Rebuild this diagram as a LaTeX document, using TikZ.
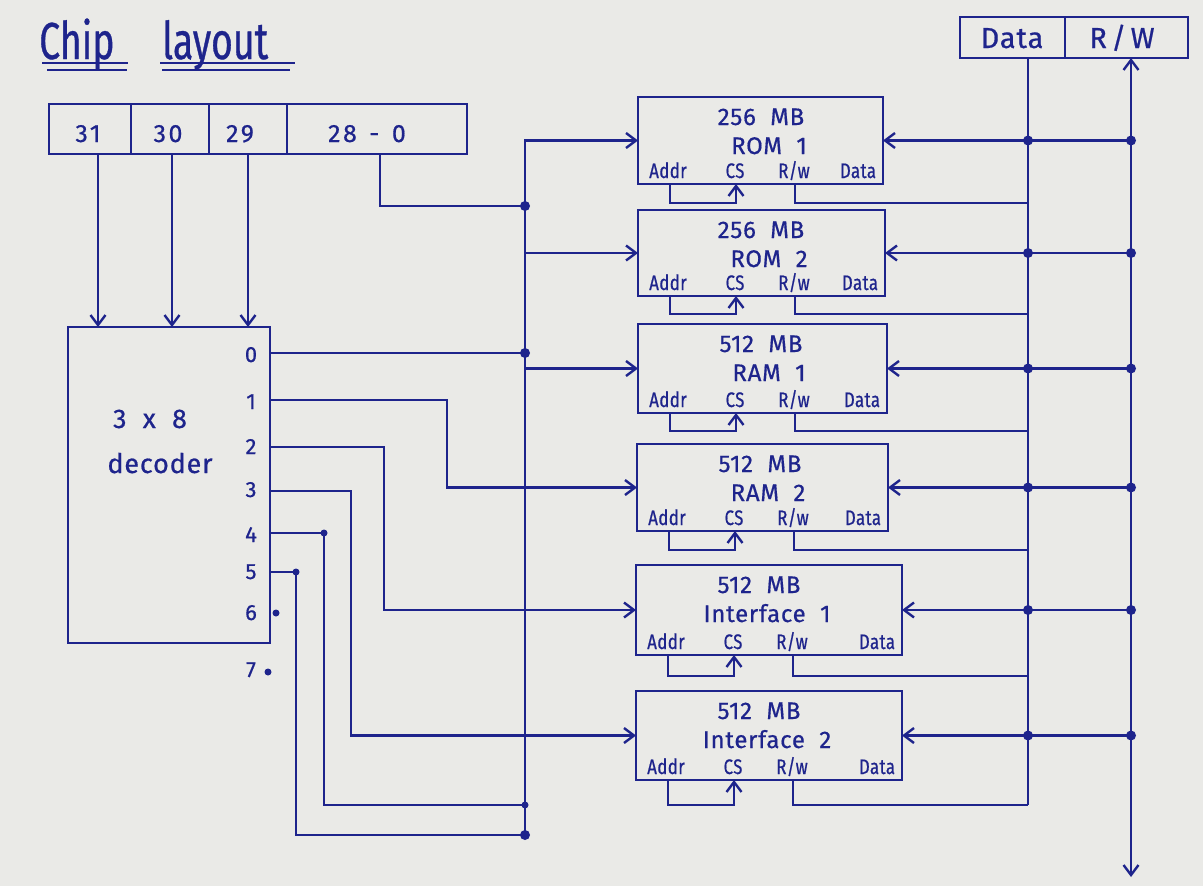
\documentclass[tikz,border=0pt]{standalone}
\usepackage{fontspec}
\setmainfont{Fira Sans}
\newfontfamily\hand[LetterSpace=3,FakeBold=0.6]{Fira Sans}
\newfontfamily\handw[LetterSpace=10,FakeBold=0.6]{Fira Sans}
\newfontfamily\handc[LetterSpace=2,FakeStretch=0.8,FakeBold=0.6]{Fira Sans}
\newfontfamily\handt[FakeStretch=0.72,FakeBold=0.6]{Fira Sans}
\usetikzlibrary{arrows.meta,calc}
\definecolor{ink}{RGB}{30,36,140}
\definecolor{paper}{RGB}{234,234,231}
\newcommand\fs[2]{#1\fontsize{#2}{#2}\selectfont}
\newcommand\gap{\hspace{0.6em}}
\def\dbx{1028}
\def\rwx{1131}
\newcommand\mkchip[8]{%
  \pgfmathsetmacro\chw{#4-#2}%
  \pgfmathsetmacro\chh{#5-#3}%
  \pgfmathsetmacro\chx{(#2+#4)/2}%
  \pgfmathsetmacro\chy{(#3+#5)/2}%
  \node[box, minimum width=\chw pt, minimum height=\chh pt] (#1) at (\chx,\chy) {};
  \node[bigt] (#1-t1) at (#2+123,#3+28) {#6};
  \node[bigt] (#1-t2) at (#2+131,#3+57) {#7};
  \node[pint] (#1-addr) at (#2+30,#5-6) {Addr};
  \node[pint] (#1-cs) at (#2+97,#5-6) {CS};
  \node[pint] (#1-rw) at (#2+156,#5-6) {R/w};
  \node[pint] (#1-data) at (#4-25,#5-6) {Data};
  \coordinate (#1-ap) at (#2+32,#5);
  \coordinate (#1-cp) at (#2+98,#5);
  \coordinate (#1-rp) at (#2+157,#5);
  \coordinate (#1-dj) at (\dbx,#8);
  \draw[->] (#1-ap) -- (#2+32,#8) -| (#1-cp);
  \draw (#1-rp) |- (#1-dj);
  \coordinate (#1-dbj) at (\dbx,\chy);
  \coordinate (#1-rwj) at (\rwx,\chy);
  \draw[->] (#1-rwj) -- (#1.east);
  \node[dot] (#1-dd) at (#1-dbj) {};
  \node[dot] (#1-rd) at (#1-rwj) {};
}
\begin{document}
\begin{tikzpicture}[x=1pt,y=-1pt,color=ink,line width=2.4pt,
  >={Straight Barb[length=10pt,width=15pt]},
  box/.style={draw,rectangle,inner sep=0pt,outer sep=0pt},
  ttl/.style={anchor=base west,inner sep=0pt,font=\fs{\handt}{52}},
  bigt/.style={anchor=base,inner sep=0pt,font=\fs{\hand}{24}},
  pint/.style={anchor=base,inner sep=0pt,font=\fs{\handc}{21}},
  regt/.style={anchor=base,inner sep=0pt,font=\fs{\handw}{25}},
  dect/.style={anchor=base,inner sep=0pt,font=\fs{\hand}{27}},
  outt/.style={anchor=base,inner sep=0pt,font=\fs{\hand}{22}},
  hdrt/.style={anchor=base,inner sep=0pt,font=\fs{\hand}{29}},
  dot/.style={circle,fill,inner sep=0pt,minimum size=10pt},
  sdot/.style={circle,fill,inner sep=0pt,minimum size=7pt}]
\fill[paper] (0,0) rectangle (1203,886);
\useasboundingbox (0,0) rectangle (1203,886);

% title
\node[ttl] (tchip) at (38,59) {Chip};
\node[ttl] (tlay) at (161,59) {layout};
\draw (42,63) -- (128,63);
\draw (47,70) -- (127,70);
\draw (160,63) -- (295,63);
\draw (162,70) -- (290,70);

% address register
\node[box, minimum width=82pt, minimum height=50pt] (r31) at (90,129) {};
\node[box, minimum width=78pt, minimum height=50pt] (r30) at (170,129) {};
\node[box, minimum width=78pt, minimum height=50pt] (r29) at (248,129) {};
\node[box, minimum width=180pt, minimum height=50pt] (r28) at (377,129) {};
\node[regt] (l31) at (88,142) {31};
\node[regt] (l30) at (168,142) {30};
\node[regt] (l29) at (240,142) {29};
\node[regt] (l28) at (367,142) {28\hspace{0.5em}-\hspace{0.5em}0};

% decoder
\node[box, minimum width=202pt, minimum height=316pt] (dec) at (169,485) {};
\node[dect] (d1) at (150,428) {3\gap x\gap 8};
\node[dect] (d2) at (160,473) {decoder};
\node[outt] (n0) at (251,362) {0};
\node[outt] (n1) at (251,409) {1};
\node[outt] (n2) at (251,454) {2};
\node[outt] (n3) at (251,497) {3};
\node[outt] (n4) at (251,542) {4};
\node[outt] (n5) at (251,579) {5};
\node[outt] (n6) at (251,620) {6};
\node[outt] (n7) at (251,677) {7};
\coordinate (o0) at (270,353);
\coordinate (o1) at (270,400);
\coordinate (o2) at (270,447);
\coordinate (o3) at (270,491);
\coordinate (o4) at (270,533);
\coordinate (o5) at (270,572);
\node[sdot] (p6) at (276,613) {};
\node[sdot] (p7) at (268,672) {};

% register to decoder
\coordinate (b31) at ([xshift=8pt]r31.south);
\coordinate (b30) at ([xshift=2pt]r30.south);
\coordinate (b29) at (r29.south);
\draw[->] (b31) -- (b31 |- dec.north);
\draw[->] (b30) -- (b30 |- dec.north);
\draw[->] (b29) -- (b29 |- dec.north);

% chips
\mkchip{rom1}{638}{97}{883}{184}{256\gap MB}{ROM\gap 1}{203}
\mkchip{rom2}{638}{210}{885}{296}{256\gap MB}{ROM\gap 2}{314}
\mkchip{ram1}{638}{324}{887}{413}{512\gap MB}{RAM\gap 1}{431}
\mkchip{ram2}{637}{444}{888}{531}{512\gap MB}{RAM\gap 2}{550}
\mkchip{if1}{636}{565}{902}{655}{512\gap MB}{Interface\gap 1}{676}
\mkchip{if2}{636}{691}{902}{780}{512\gap MB}{Interface\gap 2}{805}

% address bus
\coordinate (busb) at (525,835);
\coordinate (j28) at (525,206);
\coordinate (j0) at (525,353);
\coordinate (j4) at (525,805);
\draw[->] (busb) |- (rom1.west);
\draw[->] (rom2.west -| busb) -- (rom2.west);
\draw[->] (ram1.west -| busb) -- (ram1.west);
\coordinate (b28) at ([xshift=3pt]r28.south);
\draw (b28) |- (j28);
\draw (o0) -- (j0);
\node[dot] (dj28) at (j28) {};
\node[dot] (dj0) at (j0) {};

% decoder outputs
\draw[->] (o1) -- ++(177,0) |- (ram2.west);
\draw[->] (o2) -- ++(114,0) |- (if1.west);
\draw[->] (o3) -- ++(81,0) |- (if2.west);
\draw (o4) -- ++(54,0) coordinate (k4) |- (j4);
\draw (o5) -- ++(26,0) coordinate (k5) |- (busb);
\node[sdot] (dk4) at (k4) {};
\node[sdot] (dk5) at (k5) {};
\node[sdot] (dj4) at (j4) {};
\node[dot] (dj5) at (busb) {};

% data / rw header
\node[box, minimum width=105pt, minimum height=41pt] (dbox) at (1012.5,37.5) {};
\node[box, minimum width=123pt, minimum height=41pt] (rwbox) at (1126.5,37.5) {};
\node[hdrt] (ldata) at (1012,48) {Data};
\node[hdrt] (lrw) at (1122,48) {R\hspace{0.15em}/\hspace{0.15em}W};
\coordinate (dtop) at ([xshift=15.5pt]dbox.south);
\coordinate (rtop) at ([xshift=4.5pt]rwbox.south);
\coordinate (rbot) at (1131,877);
\draw (dtop) -- (if2-dj);
\draw[<->] (rtop) -- (rbot);
\end{tikzpicture}
\end{document}
